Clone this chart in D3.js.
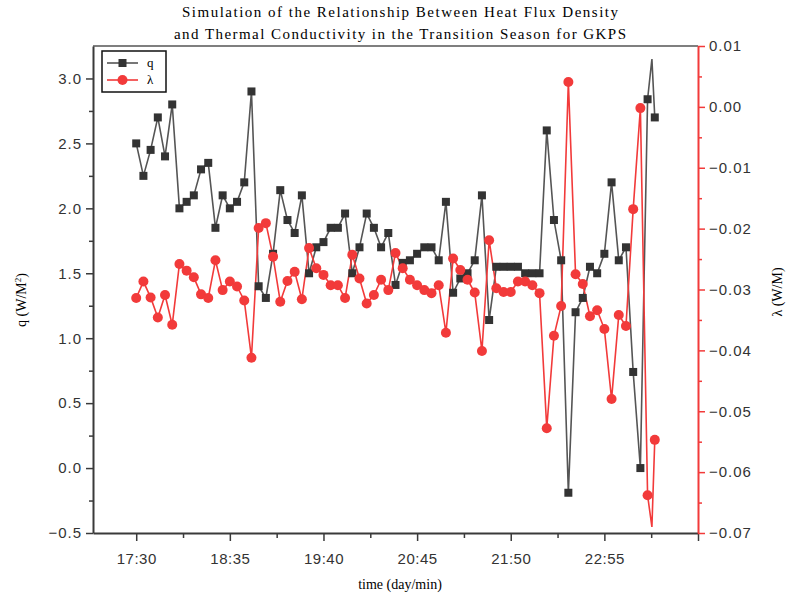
<!DOCTYPE html>
<html>
<head>
<meta charset="utf-8">
<script src="https://cdn.jsdelivr.net/npm/d3@7"></script>
<style>
  body { margin: 0; background: #fff; }
  svg { display: block; }
</style>
</head>
<body>
<div id="chart"></div>
<script>
// sample times (hh:mm), one every 5 min; "23:28" is the short spike with no symbol
const times = [
  '17:30', '17:35', '17:40', '17:45', '17:50', '17:55', '18:00', '18:05', '18:10', '18:15',
  '18:20', '18:25', '18:30', '18:35', '18:40', '18:45', '18:50', '18:55', '19:00', '19:05',
  '19:10', '19:15', '19:20', '19:25', '19:30', '19:35', '19:40', '19:45', '19:50', '19:55',
  '20:00', '20:05', '20:10', '20:15', '20:20', '20:25', '20:30', '20:35', '20:40', '20:45',
  '20:50', '20:55', '21:00', '21:05', '21:10', '21:15', '21:20', '21:25', '21:30', '21:35',
  '21:40', '21:45', '21:50', '21:55', '22:00', '22:05', '22:10', '22:15', '22:20', '22:25',
  '22:30', '22:35', '22:40', '22:45', '22:50', '22:55', '23:00', '23:05', '23:10', '23:15',
  '23:20', '23:25', '23:28', '23:30'
];

// heat flux density q (W/M²)
const qValues = [
  2.50, 2.25, 2.45, 2.70, 2.40, 2.80, 2.00, 2.05, 2.10, 2.30,
  2.35, 1.85, 2.10, 2.00, 2.05, 2.20, 2.90, 1.40, 1.31, 1.65,
  2.14, 1.91, 1.81, 2.10, 1.50, 1.70, 1.74, 1.85, 1.85, 1.96,
  1.50, 1.70, 1.96, 1.85, 1.70, 1.81, 1.41, 1.58, 1.60, 1.65,
  1.70, 1.70, 1.60, 2.05, 1.35, 1.46, 1.50, 1.60, 2.10, 1.14,
  1.55, 1.55, 1.55, 1.55, 1.50, 1.50, 1.50, 2.60, 1.91, 1.60,
  -0.19, 1.20, 1.31, 1.55, 1.50, 1.65, 2.20, 1.60, 1.70, 0.74,
  0.00, 2.84, 3.15, 2.70
];

// thermal conductivity λ (W/M)
const lambdaValues = [
  -0.0314, -0.0287, -0.0313, -0.0346, -0.0309, -0.0358, -0.0258, -0.0269, -0.0280, -0.0308,
  -0.0314, -0.0252, -0.0301, -0.0287, -0.0295, -0.0318, -0.0412, -0.0199, -0.0191, -0.0246,
  -0.0320, -0.0286, -0.0271, -0.0316, -0.0232, -0.0265, -0.0276, -0.0293, -0.0293, -0.0314,
  -0.0243, -0.0282, -0.0323, -0.0309, -0.0284, -0.0301, -0.0240, -0.0265, -0.0284, -0.0293,
  -0.0301, -0.0306, -0.0293, -0.0371, -0.0249, -0.0268, -0.0284, -0.0305, -0.0401, -0.0219,
  -0.0298, -0.0304, -0.0304, -0.0287, -0.0287, -0.0293, -0.0306, -0.0528, -0.0376, -0.0327,
  0.0041, -0.0275, -0.0291, -0.0344, -0.0334, -0.0365, -0.0480, -0.0342, -0.0360, -0.0168,
  -0.0002, -0.0638, -0.0690, -0.0547
];

// axis ticks
const xTickLabels = ['17:30', '18:35', '19:40', '20:45', '21:50', '22:55', '24:00'];
const qTicks = [-0.5, 0.0, 0.5, 1.0, 1.5, 2.0, 2.5, 3.0];
const lambdaTicks = [0.01, 0.00, -0.01, -0.02, -0.03, -0.04, -0.05, -0.06, -0.07];

const width = 794, height = 602;
const margin = { top: 46, right: 96, bottom: 69, left: 93 };
const plotW = width - margin.left - margin.right;
const plotH = height - margin.top - margin.bottom;

const grey = '#3a3a3a';
const red = '#f23a3a';
const tickFont = '"Liberation Sans", Arial, sans-serif';
const serif = '"Liberation Serif", "Times New Roman", serif';

const toMin = s => { const [h, m] = s.split(':').map(Number); return h * 60 + m; };

const data = times.map((t, i) => ({ t: toMin(t), q: qValues[i], l: lambdaValues[i] }));

const svg = d3.select('#chart').append('svg')
  .attr('width', width)
  .attr('height', height);

const x = d3.scaleLinear().domain([toMin('17:00'), toMin('24:00')]).range([0, plotW]);
const yQ = d3.scaleLinear().domain([-0.5, 3.25]).range([plotH, 0]);
const yL = d3.scaleLinear().domain([-0.07, 0.01]).range([plotH, 0]);

const g = svg.append('g').attr('transform', `translate(${margin.left},${margin.top})`);

// top frame line
g.append('line')
  .attr('x1', 0).attr('x2', plotW).attr('y1', 0).attr('y2', 0)
  .attr('stroke', '#555').attr('stroke-width', 1.5);

// minor ticks first
const xMajor = xTickLabels.map(toMin);
const xMinor = xMajor.slice(0, -1).map(v => v + 32.5);
g.append('g')
  .attr('transform', `translate(0,${plotH})`)
  .call(d3.axisBottom(x).tickValues(xMinor).tickSize(5).tickFormat(''))
  .call(a => a.select('.domain').remove())
  .selectAll('line').attr('stroke', grey).attr('stroke-width', 1.5);

const qMinor = qTicks.slice(0, -1).map(v => v + 0.25);
g.append('g')
  .call(d3.axisLeft(yQ).tickValues(qMinor).tickSize(4).tickFormat(''))
  .call(a => a.select('.domain').remove())
  .selectAll('line').attr('stroke', grey).attr('stroke-width', 1.5);

const lMinor = lambdaTicks.slice(1).map(v => v + 0.005);
g.append('g')
  .attr('transform', `translate(${plotW},0)`)
  .call(d3.axisRight(yL).tickValues(lMinor).tickSize(4).tickFormat(''))
  .call(a => a.select('.domain').remove())
  .selectAll('line').attr('stroke', red).attr('stroke-width', 1.5);

// x axis
const xAxis = g.append('g')
  .attr('transform', `translate(0,${plotH})`)
  .call(d3.axisBottom(x).tickValues(xMajor).tickSize(8).tickSizeOuter(0)
    .tickFormat((d, i) => i < xMajor.length - 1 ? xTickLabels[i] : ''));
xAxis.select('.domain').attr('stroke', grey).attr('stroke-width', 2);
xAxis.selectAll('line').attr('stroke', grey).attr('stroke-width', 1.5);
xAxis.selectAll('text')
  .attr('y', 20)
  .attr('fill', '#333')
  .style('font-family', tickFont)
  .style('font-size', '15px')
  .style('letter-spacing', '0.5px');

// left axis
const qAxis = g.append('g')
  .call(d3.axisLeft(yQ).tickValues(qTicks).tickSize(7).tickSizeOuter(0)
    .tickFormat(d => d3.format('.1f')(d).replace('-', '\u2212')));
qAxis.select('.domain').attr('stroke', grey).attr('stroke-width', 2);
qAxis.selectAll('line').attr('stroke', grey).attr('stroke-width', 1.5);
qAxis.selectAll('text')
  .attr('x', -11)
  .attr('fill', '#333')
  .style('font-family', tickFont)
  .style('font-size', '15px')
  .style('letter-spacing', '1px');

// right axis
const lAxis = g.append('g')
  .attr('transform', `translate(${plotW},0)`)
  .call(d3.axisRight(yL).tickValues(lambdaTicks).tickSize(7).tickSizeOuter(0)
    .tickFormat(d => d3.format('.2f')(d).replace('-', '\u2212')));
lAxis.select('.domain').attr('stroke', red).attr('stroke-width', 2);
lAxis.selectAll('line').attr('stroke', red).attr('stroke-width', 1.5);
lAxis.selectAll('text')
  .attr('x', 11)
  .attr('fill', '#333')
  .style('font-family', tickFont)
  .style('font-size', '15px')
  .style('letter-spacing', '1px');

// q series
g.append('path')
  .datum(data)
  .attr('fill', 'none')
  .attr('stroke', '#555')
  .attr('stroke-width', 1.6)
  .attr('d', d3.line().x(d => x(d.t)).y(d => yQ(d.q)));

// λ series
g.append('path')
  .datum(data)
  .attr('fill', 'none')
  .attr('stroke', red)
  .attr('stroke-width', 1.6)
  .attr('d', d3.line().x(d => x(d.t)).y(d => yL(d.l)));

// symbols only on the 5 min samples
const marked = data.filter(d => d.t % 5 === 0);

g.selectAll('rect.q')
  .data(marked)
  .join('rect')
  .attr('class', 'q')
  .attr('x', d => x(d.t) - 4)
  .attr('y', d => yQ(d.q) - 4)
  .attr('width', 8)
  .attr('height', 8)
  .attr('fill', '#333');

g.selectAll('circle.l')
  .data(marked)
  .join('circle')
  .attr('class', 'l')
  .attr('cx', d => x(d.t))
  .attr('cy', d => yL(d.l))
  .attr('r', 5)
  .attr('fill', red);

// legend
const legend = svg.append('g').attr('transform', 'translate(102,51)');
legend.append('rect')
  .attr('width', 64).attr('height', 41)
  .attr('fill', '#fff')
  .attr('stroke', '#111')
  .attr('stroke-width', 1.5);
legend.append('line')
  .attr('x1', 5).attr('x2', 36).attr('y1', 12).attr('y2', 12)
  .attr('stroke', '#555').attr('stroke-width', 1.6);
legend.append('rect')
  .attr('x', 16.5).attr('y', 8).attr('width', 8).attr('height', 8)
  .attr('fill', '#333');
legend.append('text')
  .attr('x', 45).attr('y', 16)
  .style('font-family', serif).style('font-size', '13px')
  .text('q');
legend.append('line')
  .attr('x1', 5).attr('x2', 36).attr('y1', 29).attr('y2', 29)
  .attr('stroke', red).attr('stroke-width', 1.6);
legend.append('circle')
  .attr('cx', 20.5).attr('cy', 29).attr('r', 5)
  .attr('fill', red);
legend.append('text')
  .attr('x', 45).attr('y', 33)
  .style('font-family', serif).style('font-size', '13px')
  .text('λ');

// title
svg.append('text')
  .attr('x', 400).attr('y', 17)
  .attr('text-anchor', 'middle')
  .attr('textLength', 436)
  .style('font-family', serif).style('font-size', '15px')
  .text('Simulation of the Relationship Between Heat Flux Density');
svg.append('text')
  .attr('x', 400).attr('y', 39)
  .attr('text-anchor', 'middle')
  .attr('textLength', 452)
  .style('font-family', serif).style('font-size', '15px')
  .text('and Thermal Conductivity in the Transition Season for GKPS');

// axis titles
svg.append('text')
  .attr('x', 400).attr('y', 589)
  .attr('text-anchor', 'middle')
  .style('font-family', serif).style('font-size', '14px')
  .text('time (day/min)');

svg.append('text')
  .attr('transform', 'translate(26,300) rotate(-90)')
  .attr('text-anchor', 'middle')
  .style('font-family', serif).style('font-size', '14px')
  .html('q (W/M<tspan dy="-5" font-size="9px">2</tspan><tspan dy="5">)</tspan>');

svg.append('text')
  .attr('transform', 'translate(782,292) rotate(-90)')
  .attr('text-anchor', 'middle')
  .style('font-family', serif).style('font-size', '14px')
  .text('λ (W/M)');
</script>
</body>
</html>
